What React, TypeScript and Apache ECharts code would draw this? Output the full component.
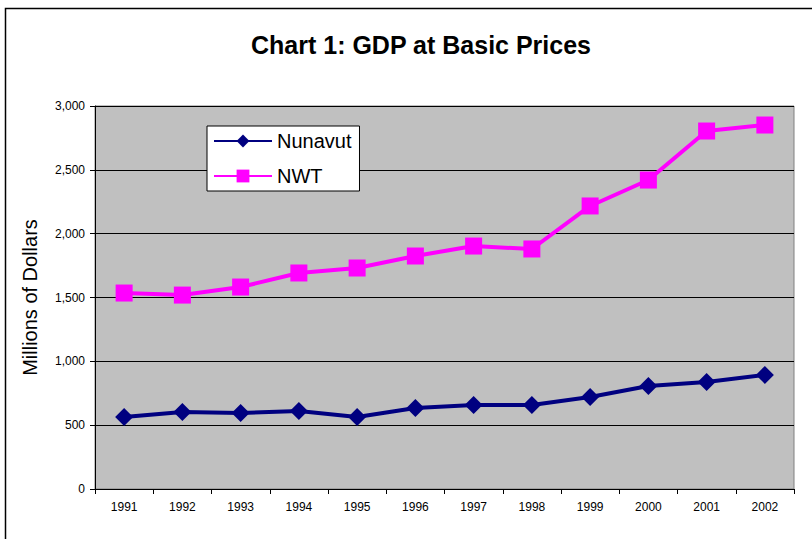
import React, { useEffect, useRef } from "react";
import * as echarts from "echarts";

const years = ["1991", "1992", "1993", "1994", "1995", "1996", "1997", "1998", "1999", "2000", "2001", "2002"];
const nunavut = [564, 603, 595, 611, 564, 634, 658, 658, 721, 807, 838, 893];
const nwt = [1535, 1519, 1582, 1692, 1731, 1825, 1903, 1880, 2217, 2420, 2804, 2851];

export default function App() {
  const ref = useRef<HTMLDivElement>(null);
  useEffect(() => {
    const chart = echarts.init(ref.current!, null, { renderer: "svg" });
    const font = "'Liberation Sans', Arial, sans-serif";
    chart.setOption({
      animation: false,
      backgroundColor: "#ffffff",
      textStyle: { fontFamily: font },
      title: {
        text: "Chart 1: GDP at Basic Prices",
        left: 416,
        top: 27,
        textAlign: "center",
        textStyle: { fontSize: 25, fontWeight: "bold", color: "#000", fontFamily: font },
      },
      graphic: [
        {
          type: "rect",
          shape: { x: 5.5, y: 8.5, width: 820, height: 540 },
          style: { fill: "none", stroke: "#000", lineWidth: 1.5 },
          silent: true,
        },
      ],
      legend: {
        orient: "vertical",
        left: 207,
        top: 126,
        backgroundColor: "#ffffff",
        borderColor: "#000",
        borderWidth: 1,
        padding: [5, 8, 5, 6],
        itemGap: 15,
        itemWidth: 58,
        itemHeight: 16,
        textStyle: { fontSize: 20, color: "#000", fontFamily: font },
        data: ["Nunavut", "NWT"],
      },
      grid: {
        left: 95,
        right: 18,
        top: 106,
        bottom: 50,
        show: true,
        backgroundColor: "#c0c0c0",
        borderColor: "#808080",
        borderWidth: 1,
      },
      xAxis: {
        type: "category",
        data: years,
        boundaryGap: true,
        axisLine: { lineStyle: { color: "#000", width: 1 } },
        axisTick: { show: true, length: 5, lineStyle: { color: "#000" } },
        axisLabel: { fontSize: 12, color: "#000", margin: 12, fontFamily: font },
      },
      yAxis: {
        type: "value",
        min: 0,
        max: 3000,
        interval: 500,
        name: "Millions of Dollars",
        nameLocation: "middle",
        nameGap: 55,
        nameTextStyle: { fontSize: 20, color: "#000", fontFamily: font },
        axisLine: { show: true, lineStyle: { color: "#000", width: 1 } },
        axisTick: { show: true, length: 5, lineStyle: { color: "#000" } },
        axisLabel: {
          fontSize: 12,
          color: "#000",
          margin: 10,
          fontFamily: font,
          formatter: (v: number) => v.toLocaleString("en-US"),
        },
        splitLine: { show: true, lineStyle: { color: "#000", width: 1 } },
      },
      series: [
        {
          name: "Nunavut",
          type: "line",
          data: nunavut,
          symbol: "diamond",
          symbolSize: 18,
          lineStyle: { color: "#000080", width: 4 },
          itemStyle: { color: "#000080" },
        },
        {
          name: "NWT",
          type: "line",
          data: nwt,
          symbol: "rect",
          symbolSize: 17,
          lineStyle: { color: "#ff00ff", width: 4 },
          itemStyle: { color: "#ff00ff" },
        },
      ],
    });
    return () => chart.dispose();
  }, []);
  return (
    <div
      ref={ref}
      style={{ position: "fixed", left: 0, top: 0, width: 812, height: 539 }}
    />
  );
}
